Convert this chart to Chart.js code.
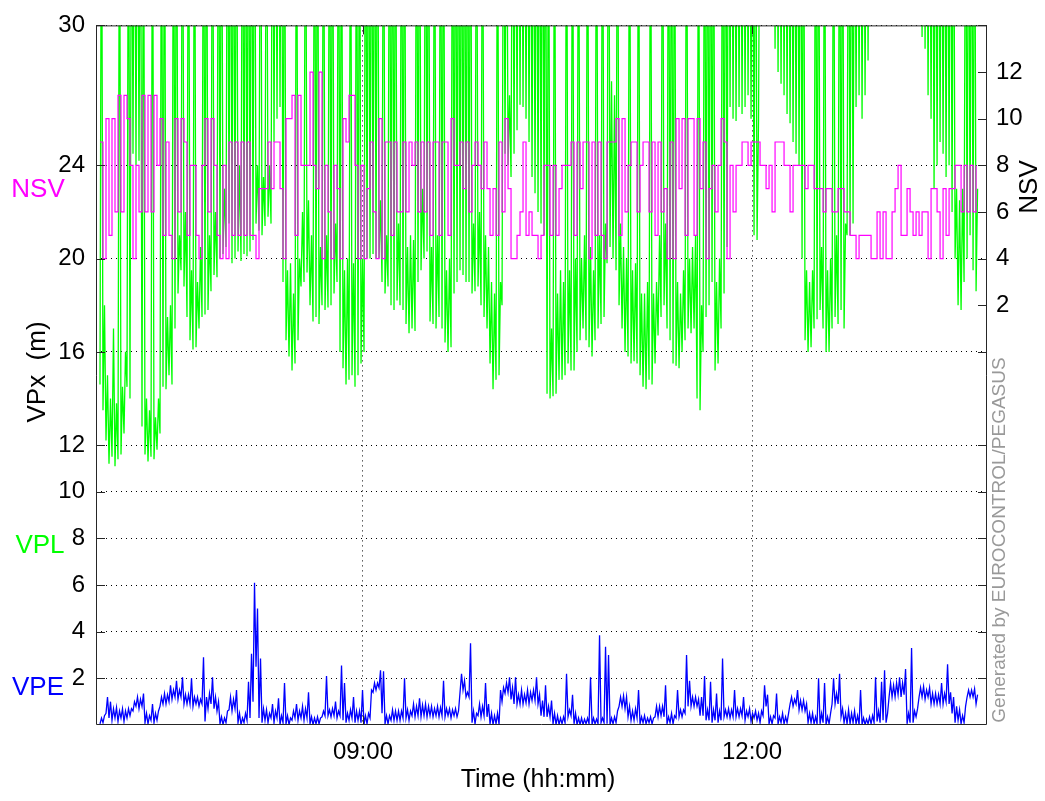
<!DOCTYPE html>
<html>
<head>
<meta charset="utf-8">
<script src="https://cdn.jsdelivr.net/npm/chart.js@4.4.0/dist/chart.umd.min.js"></script>
<style>
  html, body { margin: 0; padding: 0; background: #fff; }
  canvas { display: block; }
</style>
</head>
<body>
<canvas id="chart" width="1045" height="801"></canvas>
<script>
// sample grid of the log, minutes after midnight (first bin 06:58)
const sampleStart = 418.35;
const sampleStep = 1.388;

// VPL (m): lowest and highest value in each bin, above 30 is off the plot
const vplLow = [
  14.6, 13.5, 12.2, 11.2, 11.5, 11.1, 11.4, 11.6, 12.5, 14.5,
  14, 24.5, 24, 24.2, 12.8, 11.6, 11.3, 11.5, 11.4, 11.8,
  12.5, 14.5, 14.4, 15, 14.6, 17, 18.5, 19.5, 18.8, 17.5,
  16.5, 16.1, 16.2, 17, 17.5, 17.6, 17.8, 18.6, 19.3, 19.2,
  20, 20.2, 20.5, 21.5, 19.8, 20, 20.3, 19.9, 20.2, 20.1,
  20.3, 20.8, 21.5, 21.2, 21, 21.4, 21.8, 21.5, 25, 26,
  26.5, 19, 16.5, 15.8, 15.2, 15.5, 16.5, 18.8, 19, 19.4,
  18, 17.3, 17.5, 17.2, 18, 17.8, 17.9, 18, 18.5, 19,
  16, 15.3, 14.6, 14.8, 15, 14.5, 15, 15.5, 16, 20,
  20, 20.2, 20, 20, 19, 18.5, 18.8, 18, 17.8, 18.2,
  18, 17.8, 17.2, 16.8, 17, 16.9, 19, 19.5, 20, 20.3,
  17.3, 17.2, 17, 17.5, 17, 16.4, 16, 16.2, 18.5, 19,
  19.5, 19.3, 19, 19, 18.5, 18.6, 18.8, 18, 17.5, 17,
  15.5, 14.4, 14.8, 15, 18, 24.5, 24, 23.5, 24.5, 25.5,
  26.6, 26.5, 26, 25, 23.5, 22.8, 22, 21.5, 21, 14.2,
  14, 14.1, 14.2, 14.8, 14.8, 15, 15.5, 15.2, 15.2, 16,
  16.5, 17, 16.5, 16.2, 15.8, 16.5, 17, 17.2, 17.5, 19.8,
  20.5, 20, 19.5, 18, 17, 16, 15.8, 15.5, 15.6, 15.5,
  15, 14.5, 14.4, 14.8, 14.6, 15.5, 16.7, 17.5, 18, 17,
  16.5, 15.5, 15.4, 15.3, 16, 16.5, 17, 16.8, 17, 14,
  13.5, 16, 17.5, 18, 19, 15.2, 15.5, 17, 18.5, 20.5,
  26.5, 26, 25.9, 26.5, 26.2, 26.5, 27, 26, 21, 20.8,
  40, 40, 40, 40, 30.5, 29, 28, 27.5, 27, 26.2,
  25.8, 25, 24.5, 24, 20, 16.5, 16, 16.2, 17, 17.4,
  17.8, 17, 16, 16, 17, 17.5, 17.2, 17.8, 17, 21,
  21, 21.5, 26.5, 27, 26, 27, 28.5, 40, 40, 40,
  40, 40, 40, 40, 40, 40, 40, 40, 40, 40,
  40, 40, 40, 40, 29.5, 29, 27, 26, 23, 24,
  25, 24.5, 23.5, 24, 22, 20, 18, 17.8, 19, 20,
  21, 19.5, 18.6
];
const vplHigh = [
  40, 18, 15, 14, 17, 13.8, 40, 14.5, 16, 40,
  40, 40, 40, 40, 40, 14, 13.5, 40, 13.2, 14,
  40, 40, 17.5, 18, 40, 40, 21, 40, 22, 40,
  19.5, 40, 19, 20.5, 40, 40, 21, 40, 22, 40,
  40, 23, 40, 40, 40, 40, 24, 40, 40, 40,
  40, 40, 24, 40, 23.5, 40, 24, 40, 40, 40,
  40, 40, 19.5, 19.8, 18.5, 40, 20, 22, 40, 22.5,
  21, 40, 40, 20.5, 40, 21, 40, 40, 21.5, 40,
  40, 19.5, 20, 40, 19.8, 40, 40, 20, 40, 40,
  40, 40, 40, 22.5, 40, 21, 40, 40, 40, 21.5,
  40, 40, 20.5, 21, 20.8, 40, 40, 23, 40, 40,
  20.5, 40, 21, 40, 40, 19.5, 20, 40, 40, 40,
  40, 40, 40, 40, 21.5, 40, 22, 40, 21, 20.5,
  19, 18.5, 40, 19, 40, 40, 27, 40, 40, 40,
  40, 40, 40, 40, 40, 40, 40, 40, 40, 40,
  17, 40, 18.5, 19.5, 19, 40, 19.5, 40, 20, 40,
  20, 21, 40, 20.5, 19.5, 40, 21, 40, 21.5, 40,
  27.6, 27, 40, 21.5, 20.5, 20, 40, 19.5, 19.8, 40,
  18.5, 18.5, 19, 40, 18.5, 19, 21, 40, 21.5, 40,
  40, 40, 19, 18.5, 19.5, 40, 20, 20.5, 21, 40,
  18, 40, 40, 40, 40, 19, 20, 40, 40, 40,
  40, 40, 40, 40, 40, 40, 40, 40, 40, 26,
  40, 40, 40, 40, 40, 40, 40, 40, 40, 40,
  40, 40, 40, 40, 40, 19.5, 19, 19.5, 40, 40,
  20.5, 40, 19.5, 20, 40, 21, 40, 40, 21.5, 40,
  40, 40, 40, 40, 40, 40, 40, 40, 40, 40,
  40, 40, 40, 40, 40, 40, 40, 40, 40, 40,
  40, 40, 40, 40, 40, 40, 40, 40, 40, 40,
  40, 40, 40, 40, 40, 23, 22.5, 23, 40, 40,
  40, 40, 23
];

// number of satellites used
const nsvValues = [
  9, 4, 10, 5, 10, 6, 11, 6, 11, 10,
  8, 4, 8, 6, 11, 6, 11, 6, 11, 8,
  10, 5, 9, 5, 4, 10, 6, 10, 9, 5,
  8, 8, 5, 4, 8, 10, 6, 10, 8, 5,
  4, 8, 4, 9, 5, 9, 5, 9, 5, 9,
  5, 5, 4, 7, 7, 7, 9, 7, 9, 9,
  7, 4, 10, 10, 11, 5, 11, 8, 8, 8,
  12, 8, 7, 12, 4, 8, 6, 4, 8, 7,
  4, 10, 9, 11, 11, 8, 4, 8, 4, 7,
  9, 6, 4, 10, 4, 9, 9, 5, 9, 6,
  6, 9, 6, 9, 8, 9, 6, 9, 6, 9,
  5, 9, 9, 5, 9, 9, 5, 10, 8, 8,
  9, 7, 9, 6, 8, 9, 8, 7, 9, 7,
  5, 7, 5, 9, 6, 10, 7, 4, 4, 5,
  6, 9, 5, 6, 5, 5, 4, 5, 8, 8,
  5, 8, 5, 7, 8, 8, 8, 9, 5, 9,
  7, 9, 9, 4, 9, 5, 9, 5, 4, 9,
  9, 9, 10, 5, 10, 6, 8, 9, 9, 6,
  8, 9, 9, 6, 9, 5, 9, 6, 7, 4,
  9, 4, 10, 7, 10, 5, 10, 10, 5, 10,
  7, 9, 4, 7, 8, 6, 8, 10, 9, 4,
  8, 6, 8, 8, 9, 9, 8, 9, 9, 9,
  8, 8, 7, 8, 6, 9, 9, 9, 8, 8,
  6, 8, 8, 8, 8, 7, 8, 8, 7, 7,
  7, 6, 7, 7, 6, 6, 7, 7, 6, 6,
  5, 5, 4, 5, 5, 5, 5, 4, 4, 6,
  4, 6, 4, 4, 6, 7, 8, 5, 5, 7,
  6, 5, 6, 5, 6, 6, 4, 7, 7, 6,
  4, 7, 5, 7, 7, 8, 8, 6, 8, 6,
  8, 6, 8
];

// VPE (m): lowest and highest value in each bin
const vpeLow = [
  0.05, 0.1, 0.5, 0.3, 0.2, 0.3, 0.15, 0.3, 0.15, 0.3,
  0.4, 0.6, 0.8, 0.7, 0.8, 0.1, 0.05, 0.2, 0.1, 0.2,
  0.8, 0.9, 0.9, 1.0, 1.1, 1.2, 1.1, 1.2, 0.9, 0.9,
  0.9, 0.8, 0.9, 0.8, 0.9, 0.15, 0.7, 0.9, 0.7, 0.6,
  0.05, 0.02, 0.1, 0.65, 0.6, 0.7, 0.1, 0.02, 0.1, 0.2,
  0.3, 1.0, 2.5, 0.3, 0.1, 0.2, 0.1, 0.3, 0.1, 0.3,
  0.02, 0.1, 0.05, 0.02, 0.2, 0.3, 0.2, 0.3, 0.2, 0.3,
  0.05, 0.02, 0.05, 0.05, 0.35, 0.4, 0.4, 0.35, 0.4, 0.3,
  0.4, 0.2, 0.1, 0.2, 0.3, 0.1, 0.2, 0.1, 0.02, 0.05,
  0.3, 1.4, 1.5, 1.6, 0.5, 0.05, 0.05, 0.2, 0.2, 0.2,
  0.2, 0.3, 0.3, 0.2, 0.4, 0.35, 0.4, 0.35, 0.4, 0.35,
  0.4, 0.35, 0.4, 0.35, 0.4, 0.35, 0.4, 0.3, 0.4, 0.35,
  1.4, 1.5, 1.2, 1.2, 0.1, 0.05, 0.4, 0.35, 0.4, 0.35,
  0.05, 0.02, 0.05, 0.02, 1.0, 1.35, 1.4, 1.1, 0.9, 0.9,
  0.9, 0.9, 0.95, 0.9, 1.05, 1.05, 0.9, 0.4, 0.35, 0.35,
  0.35, 0.05, 0.02, 0.02, 0.05, 0.1, 0.35, 0.4, 0.05, 0.02,
  0.02, 0.02, 0.05, 0.05, 0.02, 0.05, 0.05, 0.1, 0.1, 0.05,
  0.02, 0.05, 0.1, 0.8, 0.8, 0.7, 0.35, 0.2, 0.2, 0.3,
  0.05, 0.1, 0.05, 0.1, 0.05, 0.35, 0.35, 0.4, 0.35, 0.05,
  0.1, 0.05, 0.3, 0.35, 0.35, 0.5, 0.8, 0.8, 0.8, 0.8,
  0.4, 0.4, 0.2, 0.2, 0.1, 0.2, 0.1, 0.2, 0.35, 0.35,
  0.3, 0.35, 0.35, 0.35, 0.4, 0.2, 0.35, 0.15, 0.3, 0.2,
  0.1, 0.4, 0.8, 0.05, 0.05, 0.3, 0.05, 0.1, 0.05, 0.1,
  0.9, 0.8, 0.9, 0.65, 0.65, 0.6, 0.1, 0.1, 0.05, 0.05,
  0.05, 0.1, 0.02, 0.05, 0.9, 0.9, 0.9, 0.35, 0.1, 0.05,
  0.05, 0.1, 0.05, 0.02, 0.02, 0.02, 0.05, 0.05, 0.1, 0.15,
  0.1, 0.2, 0.1, 1.2, 1.2, 1.2, 1.3, 1.2, 1.3, 0.05,
  0.1, 0.1, 0.35, 1.2, 1.2, 1.1, 1.2, 0.9, 0.9, 0.9,
  0.9, 0.9, 1.0, 0.9, 0.5, 0.1, 0.2, 0.05, 0.1, 1.2,
  1.2, 1.2, 0.9
];
const vpeHigh = [
  0.3, 0.4, 1.2, 1.0, 0.7, 0.75, 0.6, 0.7, 0.6, 0.7,
  0.7, 1.0, 1.2, 1.1, 1.35, 0.5, 0.4, 0.9, 0.5, 0.6,
  1.2, 1.35, 1.3, 1.7, 1.5, 1.9, 1.5, 2.05, 1.3, 1.3,
  2.0, 1.2, 1.2, 1.1, 2.9, 1.2, 1.35, 2.05, 1.2, 1.0,
  0.35, 0.3, 0.6, 1.2, 1.1, 1.5, 0.5, 0.3, 0.5, 1.85,
  3.05, 6.1, 5.0, 2.85, 0.7, 0.65, 0.5, 0.9, 0.6, 1.15,
  0.4, 1.8, 0.4, 0.3, 0.6, 0.9, 0.6, 0.8, 0.7, 1.4,
  0.35, 0.3, 0.35, 0.3, 0.6, 2.1, 0.65, 0.7, 1.0, 0.6,
  2.55, 1.8, 0.5, 0.65, 1.2, 0.6, 0.6, 1.5, 0.4, 0.5,
  1.5, 1.8, 1.8, 2.35, 2.3, 0.4, 0.4, 0.65, 0.6, 0.6,
  0.6, 2.0, 0.65, 0.6, 0.9, 0.8, 1.15, 0.85, 0.9, 0.8,
  0.8, 0.7, 0.8, 0.75, 1.9, 0.7, 0.7, 0.65, 0.7, 0.6,
  2.2, 1.9, 1.4, 3.5, 0.6, 0.5, 0.9, 0.8, 1.8, 0.9,
  0.5, 0.4, 0.5, 1.5, 1.6, 1.8, 2.05, 1.6, 2.05, 1.3,
  1.5, 1.3, 1.5, 1.4, 1.5, 2.05, 1.3, 1.05, 1.7, 0.8,
  1.05, 0.5, 0.4, 0.3, 0.35, 2.2, 0.65, 1.3, 0.5, 0.3,
  0.3, 0.25, 0.3, 2.05, 0.3, 0.25, 3.85, 0.3, 3.35, 3.0,
  0.3, 0.35, 0.6, 1.2, 1.25, 1.2, 0.8, 0.6, 0.7, 1.5,
  0.35, 0.4, 0.3, 0.35, 0.3, 0.8, 0.8, 0.8, 1.7, 0.35,
  0.5, 0.4, 1.5, 0.65, 0.65, 3.0, 1.9, 1.2, 1.2, 1.1,
  1.2, 2.1, 0.65, 1.85, 0.65, 1.35, 0.6, 2.85, 0.65, 0.7,
  0.65, 1.5, 0.7, 0.7, 1.2, 0.6, 0.7, 0.5, 0.6, 0.5,
  0.6, 1.7, 1.3, 0.35, 0.4, 1.35, 0.35, 0.5, 0.35, 0.5,
  1.2, 1.1, 1.5, 1.05, 1.05, 0.9, 0.5, 0.5, 0.35, 2.0,
  0.5, 1.8, 0.35, 0.5, 2.0, 1.35, 2.2, 0.7, 0.5, 0.65,
  0.5, 0.6, 0.4, 1.5, 0.3, 0.25, 0.35, 0.4, 2.05, 0.6,
  1.85, 2.35, 0.5, 1.8, 1.7, 1.8, 2.05, 1.8, 2.4, 0.5,
  3.3, 0.6, 0.7, 1.6, 1.65, 1.5, 1.6, 1.35, 1.35, 1.3,
  1.8, 1.35, 2.6, 1.4, 1.2, 0.8, 0.65, 0.4, 0.8, 1.5,
  1.5, 1.55, 1.3
];

const vpxTicks = [2, 4, 6, 8, 10, 12, 16, 20, 24, 30];
const nsvTicks = [2, 4, 6, 8, 10, 12];
const timeTicks = ["09:00", "12:00"];

const FONT = '"Liberation Sans", Arial, sans-serif';

function toMinutes(hhmm) {
  const [h, m] = hhmm.split(":");
  return parseInt(h) * 60 + parseInt(m);
}
function toHHMM(min) {
  const h = Math.floor(min / 60);
  const m = Math.round(min - h * 60);
  return String(h).padStart(2, "0") + ":" + String(m).padStart(2, "0");
}
function toPoints(values) {
  return values.map((v, i) => ({ x: sampleStart + i * sampleStep, y: v }));
}
// each bin drawn as min then max, like a decimated trace
function toMinMaxPoints(low, high) {
  const pts = [];
  low.forEach((v, i) => {
    pts.push({ x: sampleStart + i * sampleStep, y: v });
    pts.push({ x: sampleStart + (i + 0.5) * sampleStep, y: high[i] });
  });
  return pts;
}

// frame, inward tick marks and the free texts
const framePlugin = {
  id: "frame",
  afterDraw: (chart) => {
    const c = chart.ctx;
    const a = chart.chartArea;
    const tl = 9;
    c.save();
    c.strokeStyle = "#262626";
    c.lineWidth = 1;
    c.beginPath();
    c.rect(a.left + 0.5, a.top + 0.5, a.right - a.left - 1, a.bottom - a.top - 1);
    vpxTicks.forEach((v) => {
      const y = Math.round(chart.scales.y.getPixelForValue(v)) + 0.5;
      c.moveTo(a.left, y); c.lineTo(a.left + tl, y);
      c.moveTo(a.right, y); c.lineTo(a.right - tl, y);
    });
    nsvTicks.forEach((v) => {
      const y = Math.round(chart.scales.y2.getPixelForValue(v)) + 0.5;
      c.moveTo(a.right, y); c.lineTo(a.right - tl, y);
    });
    timeTicks.forEach((t) => {
      const x = Math.round(chart.scales.x.getPixelForValue(toMinutes(t))) + 0.5;
      c.moveTo(x, a.bottom); c.lineTo(x, a.bottom - tl);
      c.moveTo(x, a.top); c.lineTo(x, a.top + tl);
    });
    c.stroke();

    c.textAlign = "center";
    c.textBaseline = "middle";
    c.font = "26px " + FONT;
    c.fillStyle = "#ff00ff";
    c.fillText("NSV", 38, 190);
    c.fillStyle = "#00ff00";
    c.fillText("VPL", 40, 546);
    c.fillStyle = "#0000ff";
    c.fillText("VPE", 38, 688);

    c.save();
    c.translate(1030, 187);
    c.rotate(-Math.PI / 2);
    c.fillStyle = "#000";
    c.fillText("NSV", 0, 0);
    c.restore();

    c.fillStyle = "#000";
    c.font = "25px " + FONT;
    c.fillText("Time (hh:mm)", 538, 780);
    c.save();
    c.translate(38, 372);
    c.rotate(-Math.PI / 2);
    c.font = "26px " + FONT;
    c.fillText("VPx  (m)", 0, 0);
    c.restore();

    c.save();
    c.translate(1000, 540);
    c.rotate(-Math.PI / 2);
    c.fillStyle = "#999";
    c.font = "19px " + FONT;
    c.fillText("Generated by EUROCONTROL/PEGASUS", 0, 0, 370);
    c.restore();
    c.restore();
  },
};

const tickFont = { family: FONT, size: 24 };

new Chart(document.getElementById("chart").getContext("2d"), {
  type: "line",
  data: {
    datasets: [
      { label: "VPL", data: toMinMaxPoints(vplLow, vplHigh), yAxisID: "y", borderColor: "#00ff00",
        borderWidth: 1.3, pointRadius: 0, tension: 0, clip: 0, order: 3 },
      { label: "NSV", data: toPoints(nsvValues), yAxisID: "y2", borderColor: "#ff00ff",
        borderWidth: 1.2, pointRadius: 0, stepped: true, clip: 0, order: 2 },
      { label: "VPE", data: toMinMaxPoints(vpeLow, vpeHigh), yAxisID: "y", borderColor: "#0000ff",
        borderWidth: 1.3, pointRadius: 0, tension: 0, clip: 0, order: 1 },
    ],
  },
  options: {
    responsive: false,
    animation: false,
    events: [],
    layout: { padding: { top: 20, left: 0, right: 0, bottom: 0 } },
    plugins: { legend: { display: false }, tooltip: { enabled: false } },
    scales: {
      x: {
        type: "linear",
        min: 416.5,
        max: 828.7,
        afterBuildTicks: (s) => { s.ticks = timeTicks.map((t) => ({ value: toMinutes(t) })); },
        afterFit: (s) => { s.height = 76; },
        ticks: { callback: (v) => toHHMM(v), color: "#000", font: tickFont, padding: 13,
                 maxRotation: 0, autoSkip: false },
        grid: { color: "#000", drawTicks: false },
        border: { display: false, dash: [1, 4] },
      },
      y: {
        position: "left",
        min: 0,
        max: 30,
        afterBuildTicks: (s) => { s.ticks = vpxTicks.map((v) => ({ value: v })); },
        afterFit: (s) => { s.width = 96; },
        ticks: { color: "#000", font: tickFont, padding: 11 },
        grid: { color: "#000", drawTicks: false },
        border: { display: false, dash: [1, 4] },
      },
      y2: {
        position: "right",
        min: -16,
        max: 14,
        afterBuildTicks: (s) => { s.ticks = nsvTicks.map((v) => ({ value: v })); },
        afterFit: (s) => { s.width = 58; },
        ticks: { color: "#000", font: tickFont, padding: 9 },
        grid: { drawOnChartArea: false, drawTicks: false },
        border: { display: false },
      },
    },
  },
  plugins: [framePlugin],
});
</script>
</body>
</html>
